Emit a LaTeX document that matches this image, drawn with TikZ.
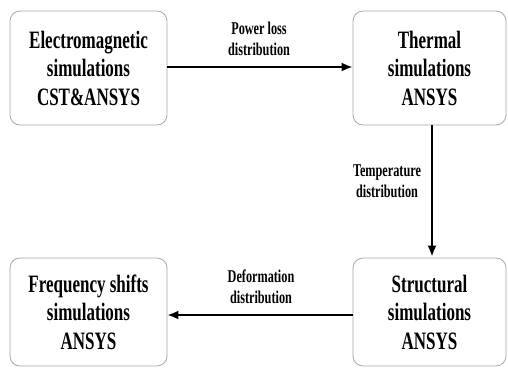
\documentclass[tikz,border=0pt]{standalone}
\usepackage{fontspec}
\setmainfont{Liberation Serif}[FakeStretch=0.68]
\usetikzlibrary{arrows.meta}
\tikzset{
  simbox/.style={draw=black!35, line width=0.8pt, rounded corners=10pt, inner sep=0pt,
    align=center, font=\bfseries\fontsize{25}{28.5}\selectfont},
  flowlabel/.style={align=center, inner sep=0pt, font=\bfseries\fontsize{18}{21}\selectfont},
  flowarrow/.style={line width=2pt, -{Latex[length=11pt,width=9pt]}}
}
\begin{document}
\begin{tikzpicture}[x=1pt,y=-1pt]
\useasboundingbox (0,0) rectangle (508,370);
\node[simbox, minimum width=157pt, minimum height=114pt] (em) at (88.5,68) {Electromagnetic\\simulations\\CST\&ANSYS};
\node[simbox, minimum width=153pt, minimum height=114pt] (th) at (429.5,68) {Thermal\\simulations\\ANSYS};
\node[simbox, minimum width=157pt, minimum height=108pt] (fs) at (88.5,312) {Frequency shifts\\simulations\\ANSYS};
\node[simbox, minimum width=153pt, minimum height=108pt] (st) at (429.5,312) {Structural\\simulations\\ANSYS};
\draw[flowarrow] ([yshift=1pt]em.east) -- ([yshift=1pt]th.west);
\draw[flowarrow] ([xshift=2.5pt]th.south) -- ([xshift=2.5pt,yshift=1pt]st.north);
\draw[flowarrow] ([yshift=-3pt]st.west) -- ([yshift=-3pt]fs.east);
\node[flowlabel] (pl) at (259,39) {Power loss\\distribution};
\node[flowlabel] (td) at (387,181) {Temperature\\distribution};
\node[flowlabel] (dd) at (261,287) {Deformation\\distribution};
\end{tikzpicture}
\end{document}
